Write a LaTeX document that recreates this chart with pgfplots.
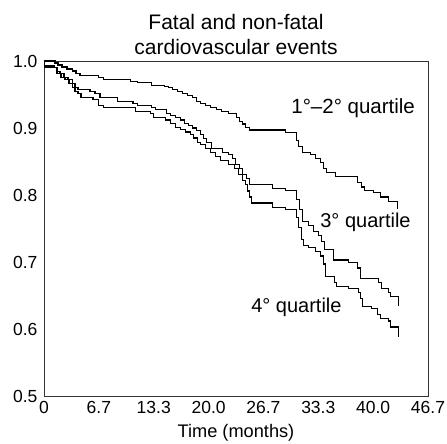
\documentclass[border=0pt]{standalone}
\usepackage{fontspec}
\setmainfont{Liberation Sans}
\usepackage{pgfplots}
\pgfplotsset{compat=1.18}
\begin{document}
\begin{tikzpicture}
\begin{axis}[
  scale only axis,
  width=384bp, height=335bp,
  xmin=0, xmax=46.6667, ymin=0.5, ymax=1.0,
  xtick={0,6.6667,13.3333,20,26.6667,33.3333,40,46.6667},
  xticklabels={0,6.7,13.3,20.0,26.7,33.3,40.0,46.7},
  ytick={0.5,0.6,0.7,0.8,0.9,1.0},
  yticklabels={0.5,0.6,0.7,0.8,0.9,1.0},
  major tick length=0pt,
  /pgf/number format/assume math mode=true,
  ticklabel style={font=\fontsize{17.5bp}{20bp}\selectfont},
  yticklabel style={xshift=-3bp},
  xticklabel style={yshift=-1.5bp},
  xlabel={Time (months)},
  xlabel style={font=\fontsize{18.2bp}{22bp}\selectfont, at={(0.5,0)}, anchor=base, inner sep=0pt, yshift=-42bp},
  axis line style={line width=0.8bp, black!80},
  clip=false,
]
\addplot[const plot mark left, black, line width=1.1bp] coordinates {
(0,1.000) (1.34,0.997) (1.70,0.994) (2.19,0.991) (2.80,0.988) (3.41,0.985)
(3.89,0.982) (4.38,0.979) (6.57,0.976) (7.18,0.973) (9.24,0.972) (10.46,0.969)
(11.31,0.968) (13.01,0.964) (14.59,0.962) (15.08,0.960) (15.57,0.957) (16.17,0.954)
(16.78,0.951) (17.39,0.948) (18.00,0.945) (18.48,0.940) (18.97,0.937) (19.58,0.934)
(20.19,0.930) (20.92,0.927) (21.53,0.924) (22.38,0.921) (23.35,0.915) (23.71,0.910)
(24.08,0.906) (24.44,0.901) (24.93,0.897) (29.31,0.893) (30.65,0.882) (30.89,0.873)
(31.38,0.864) (32.35,0.860) (32.96,0.855) (33.56,0.848) (33.93,0.840) (34.29,0.834)
(35.39,0.827) (38.06,0.818) (38.55,0.812) (38.92,0.807) (40.01,0.804) (40.86,0.797)
(41.83,0.790) (42.93,0.779)
};
\addplot[const plot mark left, black, line width=1.1bp] coordinates {
(0,1.000) (0.05,0.993) (1.22,0.990) (1.58,0.984) (1.95,0.981) (2.43,0.976)
(2.92,0.972) (3.41,0.967) (3.77,0.960) (4.13,0.957) (5.59,0.954) (6.20,0.951)
(6.81,0.945) (8.88,0.940) (10.82,0.937) (11.31,0.934) (13.01,0.930) (13.50,0.927)
(14.84,0.922) (15.32,0.919) (15.93,0.915) (16.54,0.912) (17.03,0.907) (17.51,0.904)
(18.00,0.900) (18.48,0.896) (18.97,0.890) (19.34,0.884) (19.70,0.878) (20.31,0.870)
(21.65,0.864) (22.38,0.860) (22.86,0.854) (23.23,0.846) (23.71,0.839) (24.08,0.831)
(24.57,0.824) (24.93,0.816) (27.73,0.810) (29.31,0.807) (30.65,0.793) (31.01,0.778)
(31.38,0.760) (32.10,0.754) (32.71,0.746) (33.32,0.740) (33.69,0.730) (34.05,0.718)
(35.15,0.703) (36.97,0.699) (38.06,0.691) (38.43,0.676) (40.62,0.670) (40.98,0.661)
(41.83,0.655) (42.08,0.648) (43.05,0.634)
};
\addplot[const plot mark left, black, line width=1.1bp] coordinates {
(0,1.000) (0.05,0.991) (1.22,0.990) (1.58,0.981) (2.07,0.976) (2.55,0.972)
(3.04,0.966) (3.41,0.960) (3.77,0.954) (4.13,0.951) (4.50,0.946) (5.96,0.943)
(6.57,0.934) (7.18,0.931) (9.24,0.930) (11.07,0.925) (12.89,0.922) (13.26,0.915)
(14.72,0.912) (15.32,0.907) (15.93,0.901) (16.54,0.898) (17.15,0.894) (17.76,0.890)
(18.12,0.885) (18.61,0.879) (18.97,0.875) (19.58,0.869) (20.19,0.864) (20.80,0.858)
(21.40,0.852) (22.38,0.845) (23.11,0.839) (23.59,0.831) (24.08,0.822) (24.44,0.815)
(24.69,0.806) (24.93,0.797) (25.17,0.788) (27.73,0.782) (29.31,0.778) (30.65,0.767)
(30.89,0.751) (31.25,0.733) (31.50,0.725) (32.10,0.721) (32.96,0.715) (33.56,0.709)
(33.93,0.697) (34.17,0.678) (35.27,0.669) (35.51,0.663) (36.97,0.660) (38.19,0.654)
(38.43,0.645) (38.67,0.633) (39.77,0.630) (40.50,0.622) (40.86,0.616) (41.83,0.612)
(42.08,0.603) (43.05,0.588)
};
\node[anchor=base, font=\fontsize{21bp}{25bp}\selectfont, inner sep=0pt] at ([yshift=31bp]rel axis cs:0.5,1) {Fatal and non-fatal};
\node[anchor=base, font=\fontsize{21bp}{25bp}\selectfont, inner sep=0pt] at ([yshift=6bp]rel axis cs:0.5,1) {cardiovascular events};
\node[anchor=base west, font=\fontsize{20.5bp}{24bp}\selectfont, inner sep=0pt] at (axis cs:30.04,0.921) {1°–2° quartile};
\node[anchor=base west, font=\fontsize{20bp}{24bp}\selectfont, inner sep=0pt] at (axis cs:33.56,0.752) {3° quartile};
\node[anchor=base west, font=\fontsize{20bp}{24bp}\selectfont, inner sep=0pt] at (axis cs:25.17,0.624) {4° quartile};
\coordinate (bl) at (rel axis cs:0,0);
\coordinate (tr) at (rel axis cs:1,1);
\end{axis}
\pgfresetboundingbox
\path[use as bounding box] ([xshift=-44bp,yshift=-48bp]bl) rectangle ([xshift=19bp,yshift=61bp]tr);
\end{tikzpicture}
\end{document}
